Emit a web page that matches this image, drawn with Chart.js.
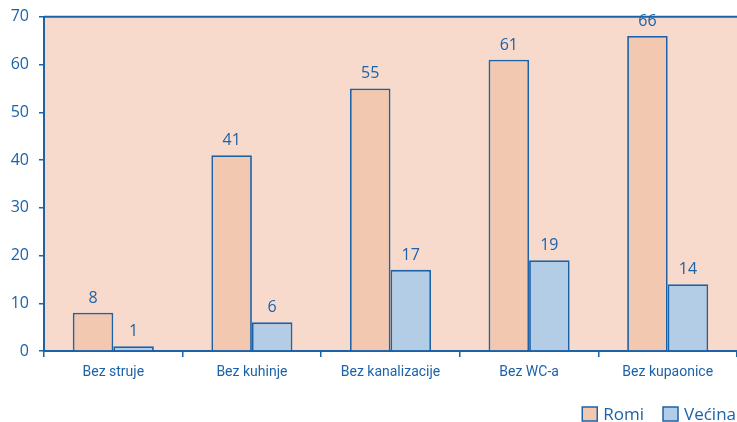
<!DOCTYPE html>
<html>
<head>
<meta charset="utf-8">
<script src="https://cdn.jsdelivr.net/npm/chart.js@4"></script>
<style>
  html, body { margin: 0; padding: 0; background: #fff; }
  #wrap { width: 737px; height: 422px; }
</style>
</head>
<body>
<div id="wrap"><canvas id="chart" width="737" height="422"></canvas></div>
<script>
// podaci sa grafikona (%)
const categories = ["Bez struje", "Bez kuhinje", "Bez kanalizacije", "Bez WC-a", "Bez kupaonice"];
const romi = [8, 41, 55, 61, 66];
const vecina = [1, 6, 17, 19, 14];
const yTicks = [0, 10, 20, 30, 40, 50, 60, 70];

const BLUE = "#1b62a9";

// pozadina plot-a + gornja linija
const plotBg = {
  id: "plotBg",
  beforeDraw(chart) {
    const { ctx, chartArea: a } = chart;
    ctx.save();
    ctx.fillStyle = "#f7dacb";
    ctx.fillRect(a.left, a.top, a.right - a.left, a.bottom - a.top);
    ctx.strokeStyle = BLUE;
    ctx.lineWidth = 2;
    ctx.beginPath();
    ctx.moveTo(a.left, a.top);
    ctx.lineTo(a.right, a.top);
    ctx.stroke();
    ctx.restore();
  }
};

// vrijednosti iznad stupaca
const valueLabels = {
  id: "valueLabels",
  afterDatasetsDraw(chart) {
    const { ctx } = chart;
    ctx.save();
    ctx.fillStyle = BLUE;
    ctx.font = "16px 'Open Sans'";
    ctx.textAlign = "center";
    ctx.textBaseline = "alphabetic";
    chart.data.datasets.forEach((ds, i) => {
      chart.getDatasetMeta(i).data.forEach((bar, j) => {
        ctx.fillText(ds.data[j], bar.x, bar.y - 10);
      });
    });
    ctx.restore();
  }
};

// legenda dolje desno
const legendBox = {
  id: "legendBox",
  afterDraw(chart) {
    const { ctx } = chart;
    ctx.save();
    ctx.font = "17px 'Open Sans'";
    ctx.textBaseline = "middle";
    let x = 736;
    const y = 414;
    const items = chart.data.datasets.slice().reverse();
    items.forEach((ds) => {
      const w = ctx.measureText(ds.label).width;
      x -= w;
      ctx.fillStyle = BLUE;
      ctx.fillText(ds.label, x, y + 1);
      x -= 6 + 15;
      ctx.fillStyle = ds.backgroundColor;
      ctx.fillRect(x, y - 7, 15, 14);
      ctx.strokeStyle = BLUE;
      ctx.lineWidth = 1.5;
      ctx.strokeRect(x, y - 7, 15, 14);
      x -= 19;
    });
    ctx.restore();
  }
};

new Chart(document.getElementById("chart"), {
  type: "bar",
  data: {
    labels: categories,
    datasets: [
      {
        label: "Romi",
        data: romi,
        backgroundColor: "#f2c8b1",
        borderColor: BLUE,
        borderWidth: 1.8,
        borderSkipped: "bottom"
      },
      {
        label: "Većina",
        data: vecina,
        backgroundColor: "#b4cde6",
        borderColor: BLUE,
        borderWidth: 1.8,
        borderSkipped: "bottom"
      }
    ]
  },
  options: {
    responsive: false,
    animation: false,
    categoryPercentage: 0.585,
    barPercentage: 1,
    layout: { padding: { top: 15, right: 0, left: 0, bottom: 30 } },
    plugins: {
      legend: { display: false },
      tooltip: { enabled: false }
    },
    scales: {
      x: {
        grid: {
          offset: true,
          drawOnChartArea: false,
          drawTicks: true,
          tickLength: 6,
          color: BLUE,
          lineWidth: 1.5
        },
        border: { color: BLUE, width: 2 },
        ticks: {
          color: BLUE,
          font: { family: "Roboto", size: 14 },
          padding: 7
        },
        afterFit(scale) { scale.height = 41; }
      },
      y: {
        min: 0,
        max: 70,
        afterBuildTicks(scale) { scale.ticks = yTicks.map(v => ({ value: v })); },
        grid: {
          drawOnChartArea: false,
          drawTicks: true,
          tickLength: 5,
          color: BLUE,
          lineWidth: 1.5
        },
        border: { color: BLUE, width: 2 },
        ticks: {
          color: BLUE,
          font: { family: "'Open Sans'", size: 16, lineHeight: 0.85 },
          padding: 10
        },
        afterFit(scale) { scale.width = 44; }
      }
    }
  },
  plugins: [plotBg, valueLabels, legendBox]
});
</script>
</body>
</html>
